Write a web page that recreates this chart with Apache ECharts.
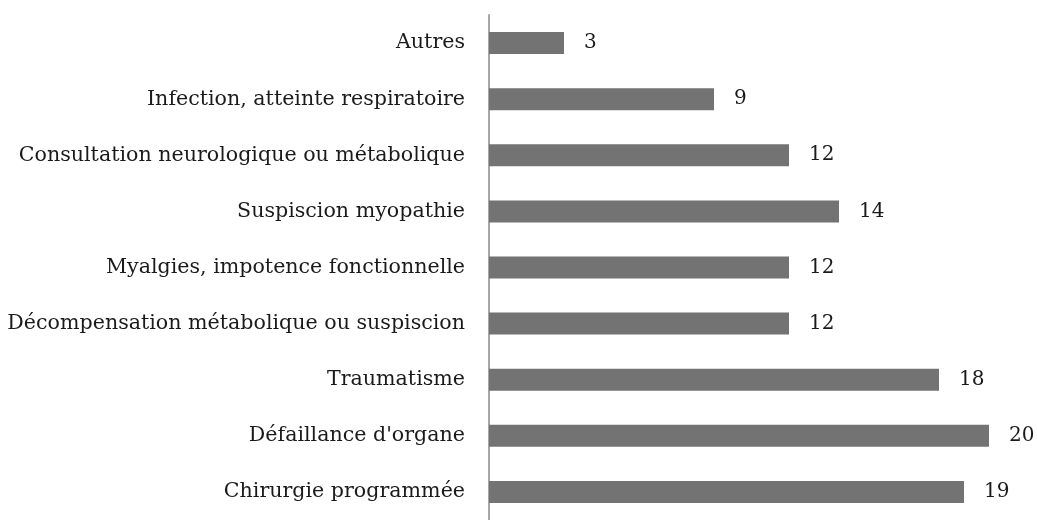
<!DOCTYPE html>
<html>
<head>
<meta charset="utf-8">
<script src="https://cdn.jsdelivr.net/npm/echarts@6/dist/echarts.min.js"></script>
<style>
  html, body { margin: 0; padding: 0; background: #fff; }
  #chart { width: 1037px; height: 520px; }
</style>
</head>
<body>
<div id="chart"></div>
<script>
  // top to bottom as in the picture
  const categories = [
    'Autres',
    'Infection, atteinte respiratoire',
    'Consultation neurologique ou métabolique',
    'Suspiscion myopathie',
    'Myalgies, impotence fonctionnelle',
    'Décompensation métabolique ou suspiscion',
    'Traumatisme',
    "Défaillance d'organe",
    'Chirurgie programmée'
  ];
  const counts = [3, 9, 12, 14, 12, 12, 18, 20, 19];

  const serif = '"DejaVu Serif", serif';
  const chart = echarts.init(document.getElementById('chart'));
  chart.setOption({
    animation: false,
    textStyle: { fontFamily: serif },
    grid: { left: 489, top: 15, width: 500, height: 513, containLabel: false },
    xAxis: {
      type: 'value',
      min: 0,
      max: 20,
      show: false
    },
    yAxis: {
      type: 'category',
      inverse: true,
      data: categories,
      axisLine: { show: true, lineStyle: { color: '#a6a6a6', width: 2 } },
      axisTick: { show: false },
      axisLabel: { color: '#1a1a1a', fontSize: 20.6, margin: 24, padding: [4, 0, 0, 0], fontFamily: serif }
    },
    series: [{
      type: 'bar',
      data: counts,
      barWidth: 22,
      itemStyle: { color: '#737373' },
      label: {
        show: true,
        position: 'right',
        distance: 20,
        padding: [4, 0, 0, 0],
        color: '#1a1a1a',
        fontSize: 20,
        fontFamily: serif
      }
    }]
  });
</script>
</body>
</html>
